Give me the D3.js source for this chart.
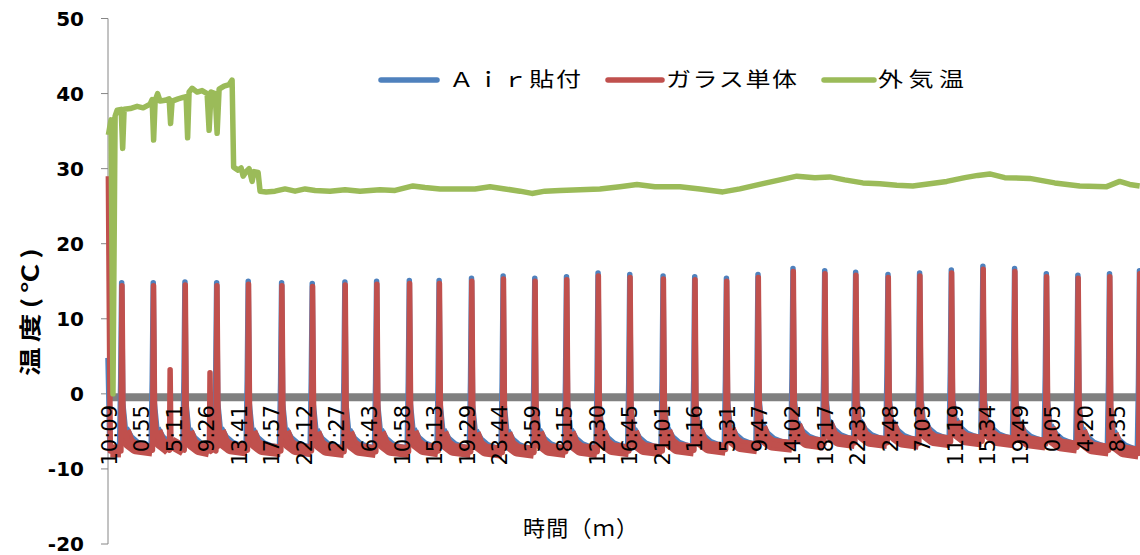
<!DOCTYPE html>
<html>
<head>
<meta charset="utf-8">
<script src="https://cdn.jsdelivr.net/npm/d3@7"></script>
<style>
  body { margin: 0; background: #fff; }
  svg { display: block; }
</style>
</head>
<body>
<div id="chart"></div>
<script>
// time labels on the category axis, one every labelStep hours
const timeLabels = ["10:09","0:55","5:11","9:26","13:41","17:57","22:12","2:27","6:43","10:58",
  "15:13","19:29","23:44","3:59","8:15","12:30","16:45","21:01","1:16","5:31","9:47","14:02",
  "18:17","22:33","2:48","7:03","11:19","15:34","19:49","0:05","4:20","8:35"];
const labelStep = 4.258;
const yTicks = [-20, -10, 0, 10, 20, 30, 40, 50];

// hours (from first label) at which the spikes peak
const spikeHours = [1.66, 5.79, 9.94, 14.09, 18.22, 22.59, 26.60, 30.87, 35.02, 39.30, 43.20,
  47.44, 51.58, 55.72, 59.87, 64.00, 68.15, 72.51, 76.65, 80.80, 84.93, 89.51, 93.66, 97.71,
  101.94, 106.08, 110.23, 114.36, 118.51, 122.66, 126.79, 130.93, 134.85];

const redPeak = [14.4, 14.4, 14.5, 14.4, 14.6, 14.4, 14.3, 14.5, 14.6, 14.7, 14.7, 15.0, 15.3,
  15.0, 15.2, 15.7, 15.5, 15.3, 15.2, 15.0, 15.5, 16.3, 16.0, 15.8, 15.5, 15.7, 16.1, 16.6,
  16.3, 15.6, 15.4, 15.6, 16.0];
const bluePeak = [14.8, 14.8, 14.9, 14.8, 15.0, 14.8, 14.7, 14.9, 15.0, 15.1, 15.1, 15.4, 15.7,
  15.4, 15.6, 16.1, 15.9, 15.7, 15.6, 15.4, 15.9, 16.7, 16.4, 16.2, 15.9, 16.1, 16.5, 17.0,
  16.7, 16.0, 15.8, 16.0, 16.4];

// level between spikes: index 0 is before the first spike, k+1 after spike k
const redBase = [-7.6, -7.5, -7.5, -7.6, -7.5, -7.6, -7.6, -7.7, -7.7, -7.7, -7.6, -7.7, -7.8,
  -7.8, -7.7, -7.7, -7.6, -7.6, -7.5, -7.4, -7.2, -7.0, -6.7, -6.5, -6.5, -6.6, -6.4, -6.3,
  -6.4, -6.7, -7.1, -7.5, -7.9];
const blueBase = [-7.3, -7.2, -7.2, -7.3, -7.2, -7.3, -7.3, -7.4, -7.4, -7.4, -7.3, -7.4, -7.5,
  -7.5, -7.4, -7.4, -7.3, -7.3, -7.2, -7.1, -6.9, -6.7, -6.4, -6.2, -6.2, -6.3, -6.1, -6.0,
  -6.1, -6.4, -6.8, -7.2, -7.6];

// shape around each spike: [hours from spike, degrees above the level]
const redRise = [[-0.12, 0]];
const blueRise = [[-0.3, 0], [-0.15, 9]];
const redDecay = [[0.15, 5.5], [0.35, 2.5], [0.9, 1.0], [1.8, 0.3]];
const blueDecay = [[0.12, 6.0], [0.45, 2.6], [1.1, 1.4], [2.0, 0.6], [3.0, 0.2]];

const redStart = [[-0.1, 29.0]];
const blueStart = [[-0.15, 4.8]];
const redMinor = [[7.98, 3.2], [13.2, 2.8]];

const outsideTemp = [[-0.1, 34.5], [0.25, 36.5], [0.5, 0], [0.78, 37.0], [1.05, 37.8], [1.57, 37.9],
  [1.77, 32.7], [1.96, 37.9], [2.75, 38.0], [3.66, 38.3], [4.45, 38.1], [5.36, 38.6], [5.62, 39.2],
  [5.82, 33.8], [6.02, 39.1], [6.34, 40.0], [6.67, 39.0], [7.33, 39.1], [7.85, 39.3], [8.04, 36.0],
  [8.24, 39.0], [9.03, 39.3], [9.68, 39.5], [10.07, 39.6], [10.27, 34.1], [10.46, 40.2], [10.86, 40.7],
  [11.51, 40.2], [12.16, 40.4], [12.82, 40.0], [13.08, 35.1], [13.34, 40.2], [13.87, 40.0], [14.13, 34.7],
  [14.39, 40.6], [15.04, 41.0], [15.70, 41.2], [16.09, 41.8], [16.29, 30.2], [16.87, 29.8], [17.27, 30.1],
  [17.53, 29.0], [17.92, 29.6], [18.31, 30.0], [18.71, 28.3], [18.97, 29.6], [19.49, 29.5], [19.75, 27.0],
  [20.54, 26.9], [21.71, 27.0], [23.02, 27.3], [24.33, 27.0], [25.64, 27.3], [26.95, 27.1], [28.91, 27.0],
  [30.87, 27.2], [32.83, 27.0], [35.45, 27.2], [37.41, 27.1], [39.76, 27.7], [41.33, 27.5], [43.30, 27.3],
  [45.26, 27.3], [47.87, 27.3], [49.84, 27.6], [51.80, 27.3], [53.76, 27.0], [55.33, 26.7], [57.03, 27.0],
  [58.99, 27.1], [61.61, 27.2], [64.22, 27.3], [66.84, 27.6], [69.07, 27.9], [71.42, 27.6], [74.69, 27.6],
  [77.31, 27.3], [80.31, 26.9], [82.54, 27.3], [85.55, 28.0], [87.78, 28.5], [90.00, 29.0], [92.35, 28.8],
  [94.31, 28.9], [96.27, 28.5], [98.63, 28.1], [100.85, 28.0], [103.07, 27.8], [105.17, 27.7],
  [107.39, 28.0], [109.61, 28.3], [111.97, 28.8], [113.67, 29.1], [115.24, 29.3], [117.20, 28.8],
  [120.47, 28.7], [123.74, 28.1], [127.01, 27.7], [130.54, 27.6], [132.24, 28.3], [133.55, 27.9],
  [134.86, 27.7]];

const width = 1140, height = 555;
const blue = '#4F81BD', red = '#C0504D', green = '#9BBB59';

const x = d3.scaleLinear().domain([-0.15, 134.9]).range([108, 1140]);
const y = d3.scaleLinear().domain([-20, 50]).range([544, 18.5]);

function buildSeries(start, bases, peaks, rise, peakAt, decay, minor){
  const pts = start.map(([t, v]) => ({t, v, band: false}));
  pts.push({t: start[start.length - 1][0] + 0.25, v: bases[0], band: true});
  spikeHours.forEach((s, k) => {
    rise.forEach(([dt, dv], j) => pts.push({t: s + dt, v: bases[k] + dv, band: j === 0}));
    pts.push({t: s + peakAt, v: peaks[k], band: false});
    const next = bases[Math.min(k + 1, bases.length - 1)];
    decay.forEach(([dt, dv], j) => pts.push({t: s + dt, v: next + dv, band: j > 0}));
  });
  minor.forEach(([m, v]) => {
    const k = d3.bisectLeft(spikeHours, m);
    pts.push({t: m - 0.08, v: bases[k], band: true},
             {t: m, v: v, band: false},
             {t: m + 0.1, v: bases[k] + 1, band: true});
  });
  return pts.sort((a, b) => a.t - b.t);
}

// stretches of a series that sit on the noisy base level
function bandRuns(pts){
  const runs = [];
  let cur = [];
  pts.forEach((p) => {
    if (p.band) cur.push(p);
    else { if (cur.length > 1) runs.push(cur); cur = []; }
  });
  if (cur.length > 1) runs.push(cur);
  return runs;
}

const bluePts = buildSeries(blueStart, blueBase, bluePeak, blueRise, -0.02, blueDecay, []);
const redPts = buildSeries(redStart, redBase, redPeak, redRise, 0.02, redDecay, redMinor);

const svg = d3.select('#chart').append('svg')
  .attr('width', width)
  .attr('height', height)
  .style('background', '#fff');

svg.append('defs').append('clipPath').attr('id', 'plot')
  .append('rect')
  .attr('x', 105).attr('y', 0)
  .attr('width', 1140 - 105).attr('height', height);

// zero line (drawn as a heavy grey band under the series)
svg.append('line')
  .attr('x1', x.range()[0]).attr('x2', x.range()[1])
  .attr('y1', y(0) + 3.5).attr('y2', y(0) + 3.5)
  .attr('stroke', '#808080').attr('stroke-width', 8);

// y axis
const axis = svg.append('g');
axis.append('line')
  .attr('x1', 108).attr('x2', 108)
  .attr('y1', y(-20)).attr('y2', y(50))
  .attr('stroke', '#868686');
axis.selectAll('.tick').data(yTicks).enter().append('line')
  .attr('x1', 101).attr('x2', 108)
  .attr('y1', (d) => y(d)).attr('y2', (d) => y(d))
  .attr('stroke', '#868686');
axis.selectAll('.ylabel').data(yTicks).enter().append('text')
  .attr('x', 84).attr('y', (d) => y(d))
  .attr('dy', '0.36em')
  .attr('text-anchor', 'end')
  .style('font-family', 'DejaVu Sans')
  .style('font-weight', 'bold')
  .style('font-size', '20px')
  .text((d) => d);

const line = d3.line().x((d) => x(d.t)).y((d) => y(d.v));
const plot = svg.append('g').attr('clip-path', 'url(#plot)');

function drawSeries(pts, color, bandWidth){
  plot.selectAll(null).data(bandRuns(pts)).enter().append('path')
    .attr('d', line)
    .attr('fill', 'none')
    .attr('stroke', color)
    .attr('stroke-width', bandWidth)
    .attr('stroke-linejoin', 'round');
  plot.append('path')
    .attr('d', line(pts))
    .attr('fill', 'none')
    .attr('stroke', color)
    .attr('stroke-width', 5.5)
    .attr('stroke-linejoin', 'round');
}

drawSeries(bluePts, blue, 8);
drawSeries(redPts, red, 13);

plot.append('path')
  .attr('d', d3.line().x((d) => x(d[0])).y((d) => y(d[1]))(outsideTemp))
  .attr('fill', 'none')
  .attr('stroke', green)
  .attr('stroke-width', 5.5)
  .attr('stroke-linejoin', 'round');

// x labels, rotated, on top of the series
svg.selectAll('.xlabel').data(timeLabels).enter().append('text')
  .attr('transform', (d, i) => `translate(${x(i * labelStep)},405) rotate(-90)`)
  .attr('dy', '0.36em')
  .attr('text-anchor', 'end')
  .style('font-family', 'DejaVu Sans')
  .style('font-size', '21px')
  .text((d) => d);

// legend
const legend = [
  {label: 'Ａｉｒ貼付', color: blue, x1: 381, x2: 437, tx: 449, len: 132},
  {label: 'ガラス単体', color: red, x1: 608, x2: 662, tx: 666, len: 131},
  {label: '外気温', color: green, x1: 824, x2: 874, tx: 878, len: 86}
];
const legendY = 80;
const leg = svg.append('g');
leg.selectAll('line').data(legend).enter().append('line')
  .attr('x1', (d) => d.x1).attr('x2', (d) => d.x2)
  .attr('y1', legendY).attr('y2', legendY)
  .attr('stroke', (d) => d.color)
  .attr('stroke-width', 5.5)
  .attr('stroke-linecap', 'round');
leg.selectAll('text').data(legend).enter().append('text')
  .attr('transform', (d) => `translate(${d.tx},${legendY}) scale(1.25,1)`)
  .attr('dy', '0.36em')
  .attr('textLength', (d) => d.len / 1.25)
  .attr('lengthAdjust', 'spacing')
  .style('font-family', '"Noto Sans CJK JP"')
  .style('font-size', '20px')
  .text((d) => d.label);

// axis titles
svg.append('text')
  .attr('transform', 'translate(30,312) rotate(-90) scale(1.3,1)')
  .attr('dy', '0.36em')
  .attr('text-anchor', 'middle')
  .attr('textLength', 128 / 1.3)
  .attr('lengthAdjust', 'spacing')
  .style('font-family', '"Noto Sans CJK JP"')
  .style('font-weight', 'bold')
  .style('font-size', '22px')
  .text('温度(℃)');

svg.append('text')
  .attr('x', 523).attr('y', 528)
  .attr('dy', '0.36em')
  .attr('textLength', 115)
  .attr('lengthAdjust', 'spacing')
  .style('font-family', '"Noto Sans CJK JP"')
  .style('font-size', '22px')
  .text('時間（ｍ）');
</script>
</body>
</html>
